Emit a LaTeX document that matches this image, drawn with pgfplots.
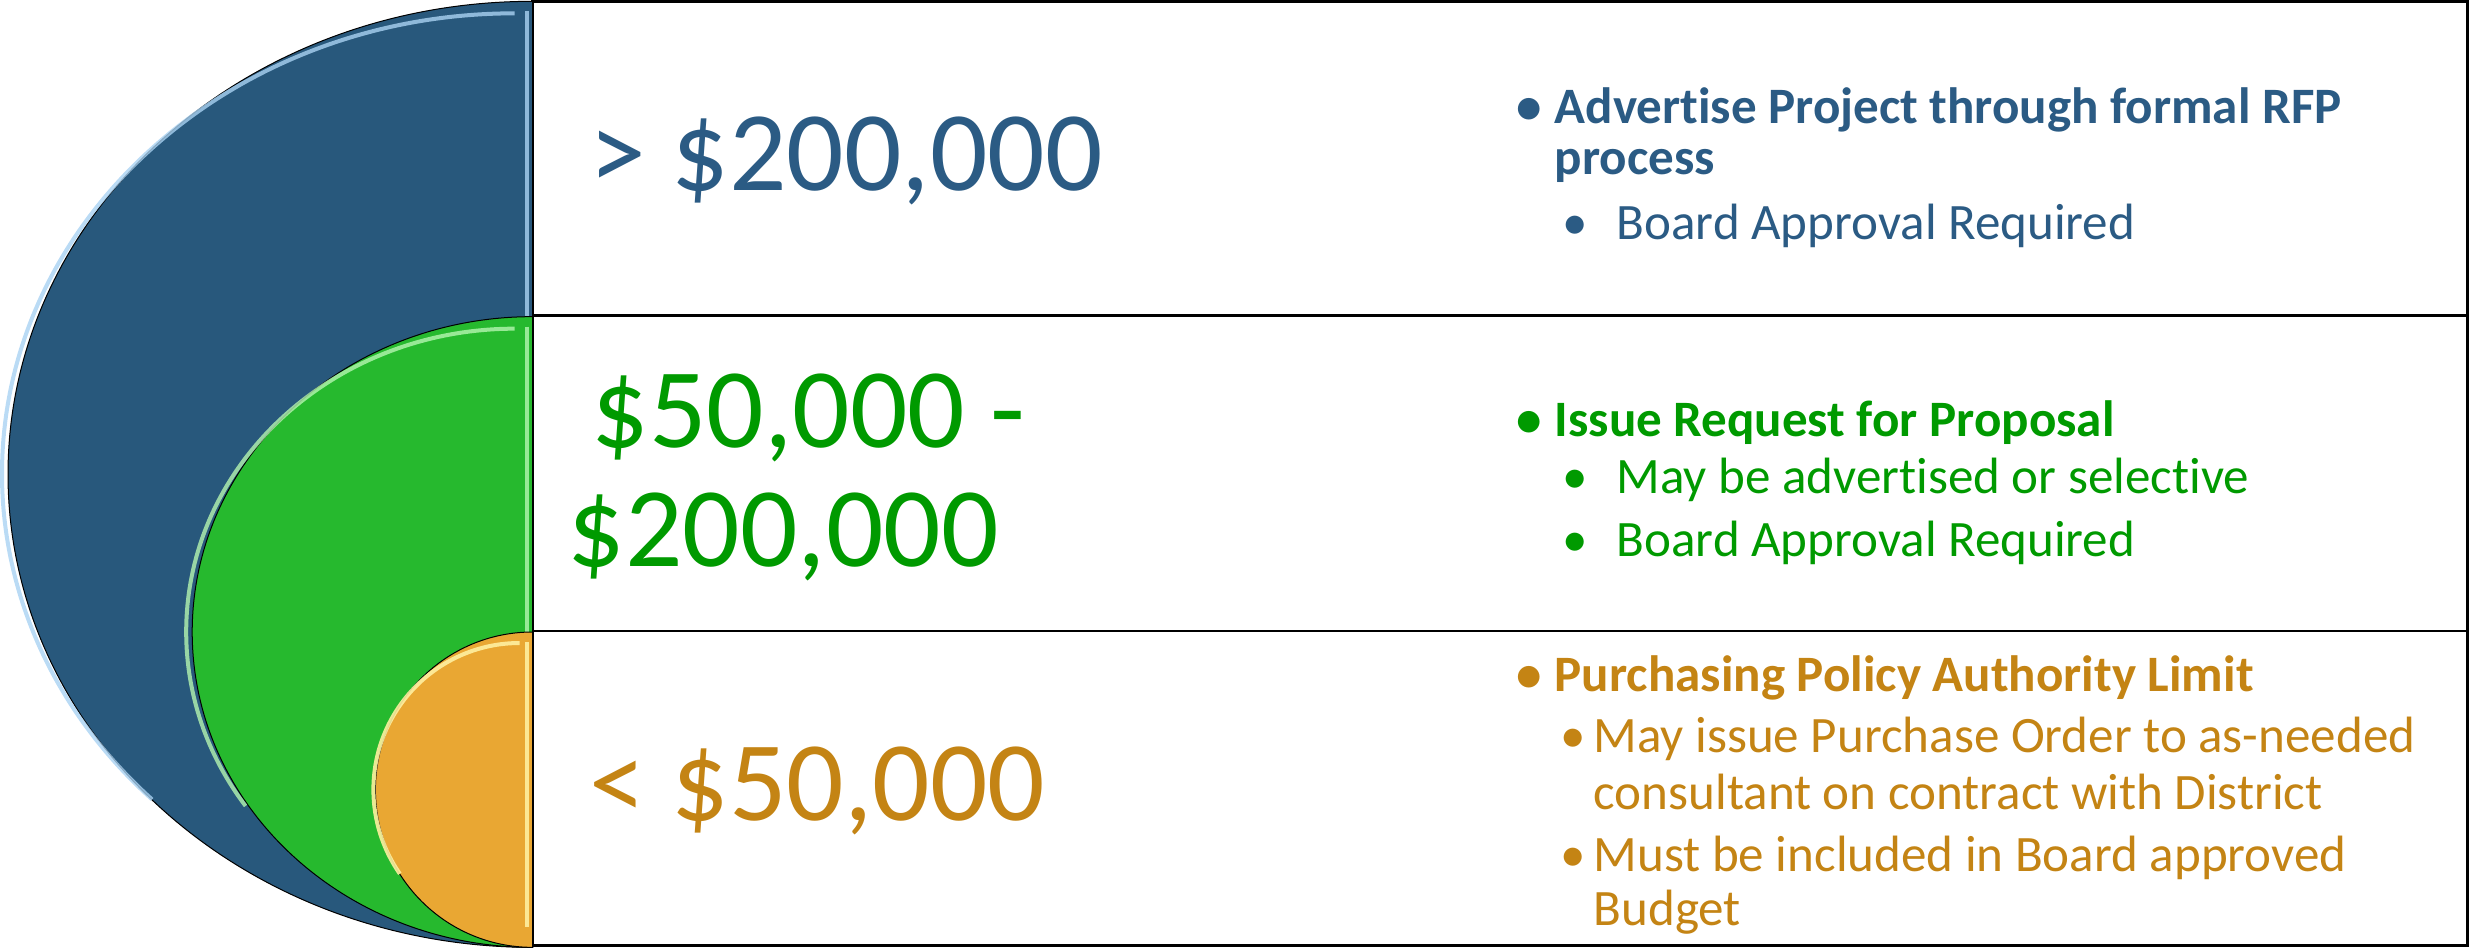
\documentclass[border=0pt]{standalone}
\usepackage{pgfplots}
\pgfplotsset{compat=1.18}
\usepackage{fontspec}
\setmainfont{Carlito}[Ligatures=NoCommon]

\definecolor{blueshape}{HTML}{28587C}
\definecolor{bluehi}{HTML}{A9D2F2}
\definecolor{bluetxt}{HTML}{2B5B84}
\definecolor{greenshape}{HTML}{26B92E}
\definecolor{greenhi}{HTML}{B5F5B0}
\definecolor{greentxt}{HTML}{009A00}
\definecolor{orangeshape}{HTML}{E9A733}
\definecolor{orangehi}{HTML}{FFF0A0}
\definecolor{orangetxt}{HTML}{C48414}

% sizes: 1 px of the reference = 0.3pt
\newcommand{\bigsz}{\fontsize{34}{40}\selectfont}
\newcommand{\smallsz}{\fontsize{15.3}{18}\selectfont}
\tikzset{lbl/.style={inner sep=0pt, outer sep=0pt, anchor=base west}}

\begin{document}
\begin{tikzpicture}
\begin{axis}[
  width=740.7pt, height=285.3pt, scale only axis,
  xmin=0, xmax=2469, ymin=0, ymax=951,
  hide axis, clip=false,
]
% row boxes
\addplot[draw=black, fill=white, line width=0.8pt] coordinates {(533,631) (2466,631) (2466,945) (533,945)} -- cycle;
\addplot[draw=black, fill=white, line width=0.8pt] coordinates {(533,316) (2466,316) (2466,631) (533,631)} -- cycle;
\addplot[draw=black, fill=white, line width=0.8pt] coordinates {(533,2) (2466,2) (2466,316) (533,316)} -- cycle;

% half ellipses
\fill[blueshape, draw=black, line width=0.3pt] (axis cs:533,945) arc[start angle=90, end angle=270, x radius=524, y radius=472.5] -- cycle;
\draw[bluehi, line width=1.2pt, opacity=0.8] (axis cs:515,933) arc[start angle=90, end angle=225, x radius=512, y radius=460];
\draw[bluehi, line width=1.2pt, opacity=0.8] (axis cs:527,935) -- (axis cs:527,20);

\fill[greenshape, draw=black, line width=0.3pt] (axis cs:533,630) arc[start angle=90, end angle=270, x radius=340, y radius=315] -- cycle;
\draw[greenhi, line width=1.2pt, opacity=0.8] (axis cs:515,618) arc[start angle=90, end angle=215, x radius=328, y radius=303];
\draw[greenhi, line width=1.2pt, opacity=0.8] (axis cs:527,620) -- (axis cs:527,20);

\fill[orangeshape, draw=black, line width=0.3pt] (axis cs:533,315) arc[start angle=90, end angle=270, x radius=157, y radius=157.5] -- cycle;
\draw[orangehi, line width=1.2pt, opacity=0.9] (axis cs:520,304) arc[start angle=90, end angle=215, x radius=146, y radius=146.5];
\draw[orangehi, line width=1.2pt, opacity=0.9] (axis cs:527,305) -- (axis cs:527,20);

% left labels
\node[lbl, text=bluetxt, font=\bigsz] at (axis cs:590,756) {> \$200,000};
\node[lbl, text=greentxt, font=\bigsz] at (axis cs:592,499) {\$50,000 -};
\node[lbl, text=greentxt, font=\bigsz] at (axis cs:568,380) {\$200,000};
\node[lbl, text=orangetxt, font=\bigsz] at (axis cs:590,127) {< \$50,000};

% top row text
\node[lbl, text=bluetxt, font=\smallsz\bfseries] at (axis cs:1516,823) {•};
\node[lbl, text=bluetxt, font=\smallsz\bfseries] at (axis cs:1554,823) {Advertise Project through formal RFP};
\node[lbl, text=bluetxt, font=\smallsz\bfseries] at (axis cs:1554,772) {process};
\node[lbl, text=bluetxt, font=\smallsz] at (axis cs:1562,707) {•};
\node[lbl, text=bluetxt, font=\smallsz] at (axis cs:1616,707) {Board Approval Required};

% middle row text
\node[lbl, text=greentxt, font=\smallsz\bfseries] at (axis cs:1516,510) {•};
\node[lbl, text=greentxt, font=\smallsz\bfseries] at (axis cs:1554,510) {Issue Request for Proposal};
\node[lbl, text=greentxt, font=\smallsz] at (axis cs:1562,453) {•};
\node[lbl, text=greentxt, font=\smallsz] at (axis cs:1616,453) {May be advertised or selective};
\node[lbl, text=greentxt, font=\smallsz] at (axis cs:1562,390) {•};
\node[lbl, text=greentxt, font=\smallsz] at (axis cs:1616,390) {Board Approval Required};

% bottom row text
\node[lbl, text=orangetxt, font=\smallsz\bfseries] at (axis cs:1516,256) {•};
\node[lbl, text=orangetxt, font=\smallsz\bfseries] at (axis cs:1554,256) {Purchasing Policy Authority Limit};
\node[lbl, text=orangetxt, font=\smallsz] at (axis cs:1560,195) {•};
\node[lbl, text=orangetxt, font=\smallsz] at (axis cs:1593,195) {May issue Purchase Order to as-needed};
\node[lbl, text=orangetxt, font=\smallsz] at (axis cs:1593,138) {consultant on contract with District};
\node[lbl, text=orangetxt, font=\smallsz] at (axis cs:1560,76) {•};
\node[lbl, text=orangetxt, font=\smallsz] at (axis cs:1593,76) {Must be included in Board approved};
\node[lbl, text=orangetxt, font=\smallsz] at (axis cs:1593,22) {Budget};
\end{axis}
\end{tikzpicture}
\end{document}
